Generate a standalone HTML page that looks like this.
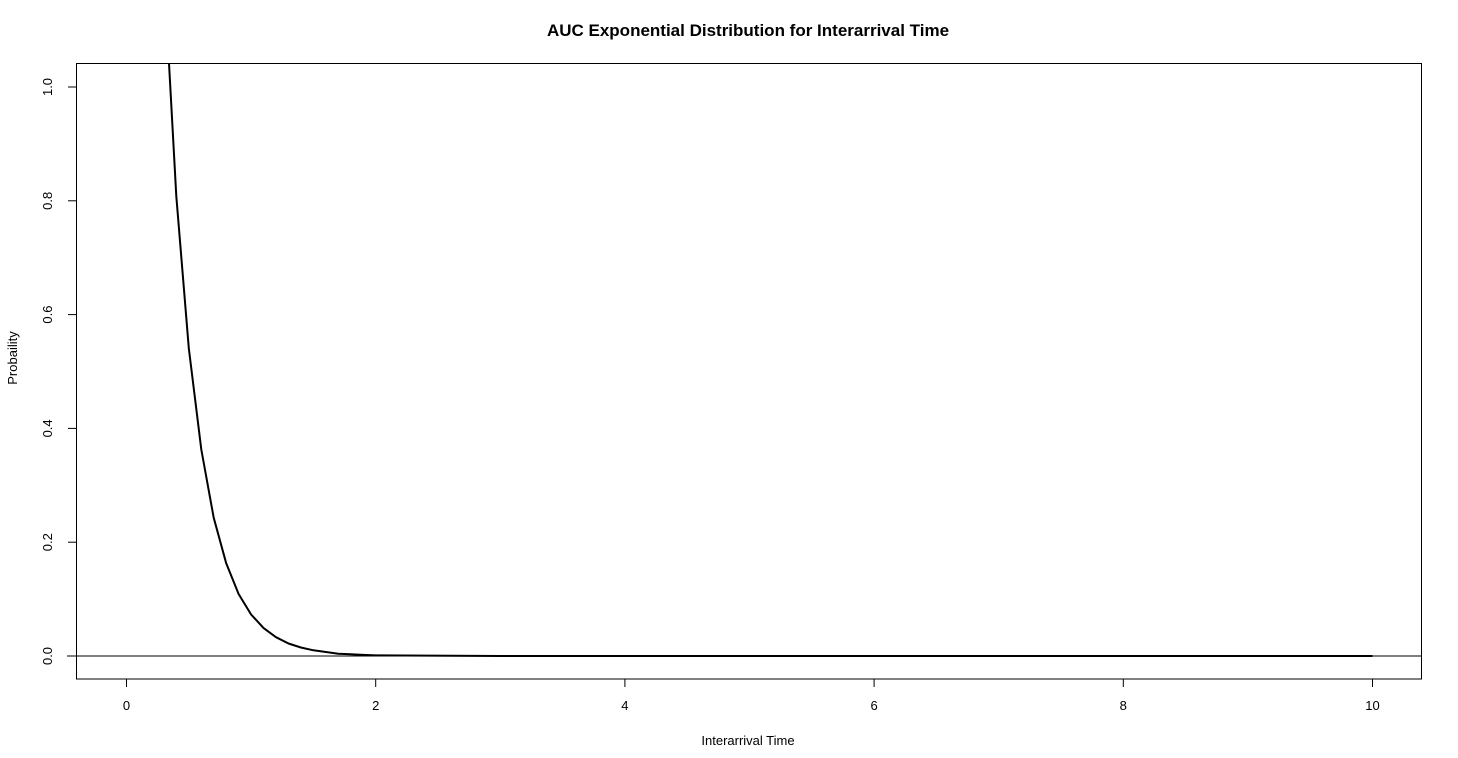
<!DOCTYPE html>
<html><head><meta charset="utf-8"><style>
html,body{margin:0;padding:0;background:#fff;}
svg{display:block;font-family:"Liberation Sans",Arial,sans-serif;}
</style></head><body>
<svg id="chart" width="1458" height="758">
<text x="748" y="36" text-anchor="middle" font-size="17" font-weight="bold">AUC Exponential Distribution for Interarrival Time</text>
<text x="748" y="745" text-anchor="middle" font-size="13">Interarrival Time</text>
<text x="0" y="0" transform="translate(17,358) rotate(-90)" text-anchor="middle" font-size="13">Probaility</text>
<rect x="76.5" y="63.5" width="1345" height="615.5" fill="none" stroke="#000" stroke-width="1"/>
<defs><clipPath id="clip"><rect x="76.5" y="63.5" width="1345" height="615.5"/></clipPath></defs>
<g id="xaxis"></g><g id="yaxis"></g>
<line id="hline" stroke="#000" stroke-width="1"/>
<path id="curve" fill="none" stroke="#000" stroke-width="2" stroke-linejoin="round" clip-path="url(#clip)"/>
</svg>
<script>
const xValues=[0,0.1,0.2,0.3,0.4,0.5,0.6,0.7,0.8,0.9,1.0,1.1,1.2,1.3,1.4,1.5,1.6,1.7,1.8,1.9,2.0,3,4,6,8,10];
const yValues=[4,2.681,1.797,1.205,0.808,0.541,0.363,0.243,0.163,0.109,0.073,0.049,0.033,0.022,0.015,0.010,0.007,0.004,0.003,0.002,0.001,0,0,0,0,0];
const xTicks=[0,2,4,6,8,10];
const yTicks=[0.0,0.2,0.4,0.6,0.8,1.0];
const yTickLabels=["0.0","0.2","0.4","0.6","0.8","1.0"];
const NS="http://www.w3.org/2000/svg";
function sx(v){return 126.5+v*124.6;}
function sy(v){return 656-v*569;}
const xa=document.getElementById('xaxis'),ya=document.getElementById('yaxis');
let l=document.createElementNS(NS,'line');
l.setAttribute('x1',sx(xTicks[0]));l.setAttribute('x2',sx(xTicks[xTicks.length-1]));l.setAttribute('y1',679);l.setAttribute('y2',679);l.setAttribute('stroke','#000');


xa.appendChild(l);
xTicks.forEach(t=>{
 const k=document.createElementNS(NS,'line');
 k.setAttribute('x1',sx(t));k.setAttribute('x2',sx(t));k.setAttribute('y1',679);k.setAttribute('y2',687);k.setAttribute('stroke','#000');
 
 
 xa.appendChild(k);
 const tx=document.createElementNS(NS,'text');
 tx.setAttribute('x',sx(t));tx.setAttribute('y',710);tx.setAttribute('text-anchor','middle');tx.setAttribute('font-size','13');tx.textContent=t;
 
 
 xa.appendChild(tx);
});
yTicks.forEach((t,i)=>{
 const k=document.createElementNS(NS,'line');
 k.setAttribute('x1',68);k.setAttribute('x2',76.5);k.setAttribute('y1',sy(t));k.setAttribute('y2',sy(t));k.setAttribute('stroke','#000');
 
 
 ya.appendChild(k);
 const tx=document.createElementNS(NS,'text');
 tx.setAttribute('transform','translate(52,'+sy(t)+') rotate(-90)');tx.setAttribute('text-anchor','middle');tx.setAttribute('font-size','13');tx.textContent=yTickLabels[i];
 
 
 ya.appendChild(tx);
});
const h=document.getElementById('hline');
h.setAttribute('x1',67);h.setAttribute('x2',1421.5);h.setAttribute('y1',sy(0));h.setAttribute('y2',sy(0));
document.getElementById('curve').setAttribute('d',xValues.map((x,i)=>(i?'L':'M')+sx(x).toFixed(1)+' '+sy(yValues[i]).toFixed(1)).join(' '));
</script>
</body></html>
